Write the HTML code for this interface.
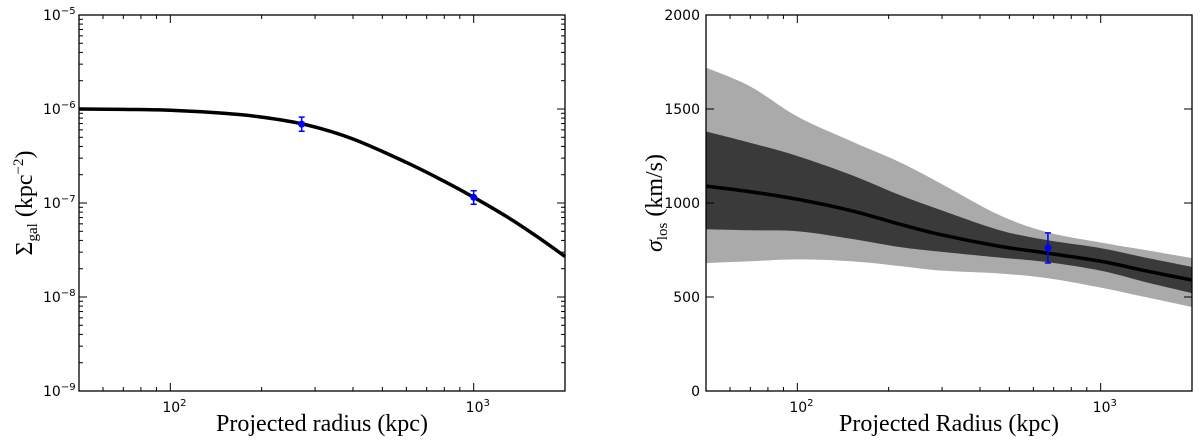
<!DOCTYPE html>
<html><head><meta charset="utf-8"><style>
html,body{margin:0;padding:0;background:#fff;}
svg text{font-family:"DejaVu Sans","Liberation Sans",sans-serif;}
.ser{font-family:"Liberation Serif","DejaVu Serif",serif;}
</style></head><body>
<svg id="chart" width="1200" height="439" xmlns="http://www.w3.org/2000/svg"></svg>
<script>
// Left panel data
const leftR = [50,70,100,150,200,280,400,600,800,1000,1300,1600,2000];
const leftSigma = [1.0e-6,0.99e-6,0.97e-6,0.9e-6,0.82e-6,0.68e-6,0.48e-6,0.27e-6,0.17e-6,0.115e-6,0.07e-6,0.045e-6,0.027e-6];
const leftPtsR = [271,1000];
const leftPtsV = [6.9e-7,1.15e-7];
const leftPtsLo = [5.8e-7,0.97e-7];
const leftPtsHi = [8.2e-7,1.35e-7];
const leftYTicks = [-9,-8,-7,-6,-5];
// Right panel data
const rightR = [50,70,100,150,217,300,463,662,1000,1400,2000];
const lightUp = [1720,1620,1460,1330,1218,1100,936,846,790,750,707];
const darkUp = [1380,1320,1250,1150,1043,960,856,803,760,710,660];
const medianV = [1090,1060,1020,960,888,830,770,734,690,640,590];
const darkLo = [860,855,850,810,766,740,710,686,640,580,521];
const lightLo = [680,690,700,690,665,640,625,601,550,500,447];
const rightPtR = [670];
const rightPtV = [761];
const rightPtErr = [80];
const rightYTicks = [0,500,1000,1500,2000];
const xTickDecades = [2,3];

const NS="http://www.w3.org/2000/svg";
const svg=document.getElementById('chart');
function mk(tag,attrs,parent){const e=document.createElementNS(NS,tag);for(const k in attrs)e.setAttribute(k,attrs[k]);(parent||svg).appendChild(e);return e;}
function smooth(pts,start){let d=(start||'M')+pts[0][0]+','+pts[0][1];
  for(let i=0;i<pts.length-1;i++){const p0=pts[Math.max(0,i-1)],p1=pts[i],p2=pts[i+1],p3=pts[Math.min(pts.length-1,i+2)];
    const c1=[p1[0]+(p2[0]-p0[0])/6,p1[1]+(p2[1]-p0[1])/6],c2=[p2[0]-(p3[0]-p1[0])/6,p2[1]-(p3[1]-p1[1])/6];
    d+='C'+c1[0]+','+c1[1]+' '+c2[0]+','+c2[1]+' '+p2[0]+','+p2[1];}return d;}
const T=15,B=391;
function xs(x0,x1){return r=>x0+(Math.log10(r)-Math.log10(50))/(Math.log10(2000)-Math.log10(50))*(x1-x0);}
const lx=xs(79,565), rx=xs(706,1192);
const ly=v=>T+(-5-Math.log10(v))/4*(B-T);
const ry=v=>B-v/2000*(B-T);

function xAxisTicks(g,X){
  for(let d=1;d<=3;d++)for(let m=1;m<10;m++){const r=m*Math.pow(10,d);if(r<50||r>2000)continue;const px=X(r);const len=m===1?8:4;
    mk('line',{x1:px,y1:B,x2:px,y2:B-len,stroke:'#000','stroke-width':1},g);mk('line',{x1:px,y1:T,x2:px,y2:T+len,stroke:'#000','stroke-width':1},g);}
  xTickDecades.forEach(d=>{const px=X(Math.pow(10,d));const t=mk('text',{x:px-8,y:B+21,'font-size':14},g);t.textContent='10';const s=mk('tspan',{dy:-6,'font-size':10},t);s.textContent=d;});
}
// LEFT
const gl=mk('g',{});
const lc=mk('path',{d:smooth(leftR.map((r,i)=>[lx(r),ly(leftSigma[i])])),fill:'none',stroke:'#000','stroke-width':3.5},gl);

leftPtsR.forEach((r,i)=>{const x=lx(r);const g=mk('g',{},gl);
  mk('line',{x1:x,x2:x,y1:ly(leftPtsHi[i]),y2:ly(leftPtsLo[i]),stroke:'#00f','stroke-width':1.5},g);
  [leftPtsHi[i],leftPtsLo[i]].forEach(v=>mk('line',{x1:x-3,x2:x+3,y1:ly(v),y2:ly(v),stroke:'#00f','stroke-width':1.5},g));
  mk('circle',{cx:x,cy:ly(leftPtsV[i]),r:3.5,fill:'#00f'},g);});
for(let d=-9;d<-5;d++)for(let m=1;m<10;m++){const py=ly(m*Math.pow(10,d));const len=m===1?8:4;
  mk('line',{x1:79,x2:79+len,y1:py,y2:py,stroke:'#000'},gl);mk('line',{x1:565,x2:565-len,y1:py,y2:py,stroke:'#000'},gl);}
leftYTicks.forEach(d=>{const t=mk('text',{x:43,y:ly(Math.pow(10,d))+5,'font-size':14},gl);t.textContent='10';const s=mk('tspan',{dy:-6,'font-size':10},t);s.textContent='−'+(-d);});
xAxisTicks(gl,lx);
const lf=mk('rect',{x:79,y:T,width:486,height:B-T,fill:'none',stroke:'#000','stroke-width':1.3},gl);
// RIGHT
const gr=mk('g',{});
function band(up,lo,color,name){const a=rightR.map((r,i)=>[rx(r),ry(up[i])]);const b=rightR.map((r,i)=>[rx(r),ry(lo[i])]).reverse();
  const d=smooth(a)+smooth(b,'L')+'Z';const p=mk('path',{d,fill:color},gr);}
band(lightUp,lightLo,'#aaaaaa','band-2sigma');
band(darkUp,darkLo,'#3a3a3a','band-1sigma');
const mline=mk('path',{d:smooth(rightR.map((r,i)=>[rx(r),ry(medianV[i])])),fill:'none',stroke:'#000','stroke-width':3.5},gr);

rightPtR.forEach((r,i)=>{const x=rx(r);const g=mk('g',{},gr);
  const hi=rightPtV[i]+rightPtErr[i],lo=rightPtV[i]-rightPtErr[i];
  mk('line',{x1:x,x2:x,y1:ry(hi),y2:ry(lo),stroke:'#00f','stroke-width':1.5},g);
  [hi,lo].forEach(v=>mk('line',{x1:x-3,x2:x+3,y1:ry(v),y2:ry(v),stroke:'#00f','stroke-width':1.5},g));
  mk('circle',{cx:x,cy:ry(rightPtV[i]),r:3.5,fill:'#00f'},g);});
rightYTicks.forEach(v=>{const py=ry(v);mk('line',{x1:706,x2:714,y1:py,y2:py,stroke:'#000'},gr);mk('line',{x1:1192,x2:1184,y1:py,y2:py,stroke:'#000'},gr);
  const t=mk('text',{x:700,y:py+5,'font-size':14,'text-anchor':'end'},gr);t.textContent=v;});
xAxisTicks(gr,rx);
const rf=mk('rect',{x:706,y:T,width:486,height:B-T,fill:'none',stroke:'#000','stroke-width':1.3},gr);
</script>
<svg width="1200" height="439" style="position:absolute;left:0;top:0" xmlns="http://www.w3.org/2000/svg">
<text class="ser" x="322" y="431" font-size="24" text-anchor="middle">Projected radius (kpc)</text>
<text class="ser" x="949" y="431" font-size="24" text-anchor="middle">Projected Radius (kpc)</text>
<text class="ser" transform="translate(32,203) rotate(-90)" font-size="24" text-anchor="middle">Σ<tspan font-size="15" dy="5">gal</tspan><tspan dy="-5"> (kpc</tspan><tspan font-size="15" dy="-9">−2</tspan><tspan dy="9">)</tspan></text>
<text class="ser" transform="translate(662,203) rotate(-90)" font-size="24" text-anchor="middle"><tspan font-style="italic">σ</tspan><tspan font-size="15" dy="5">los</tspan><tspan dy="-5"> (km/s)</tspan></text>
</svg>
</body></html>
